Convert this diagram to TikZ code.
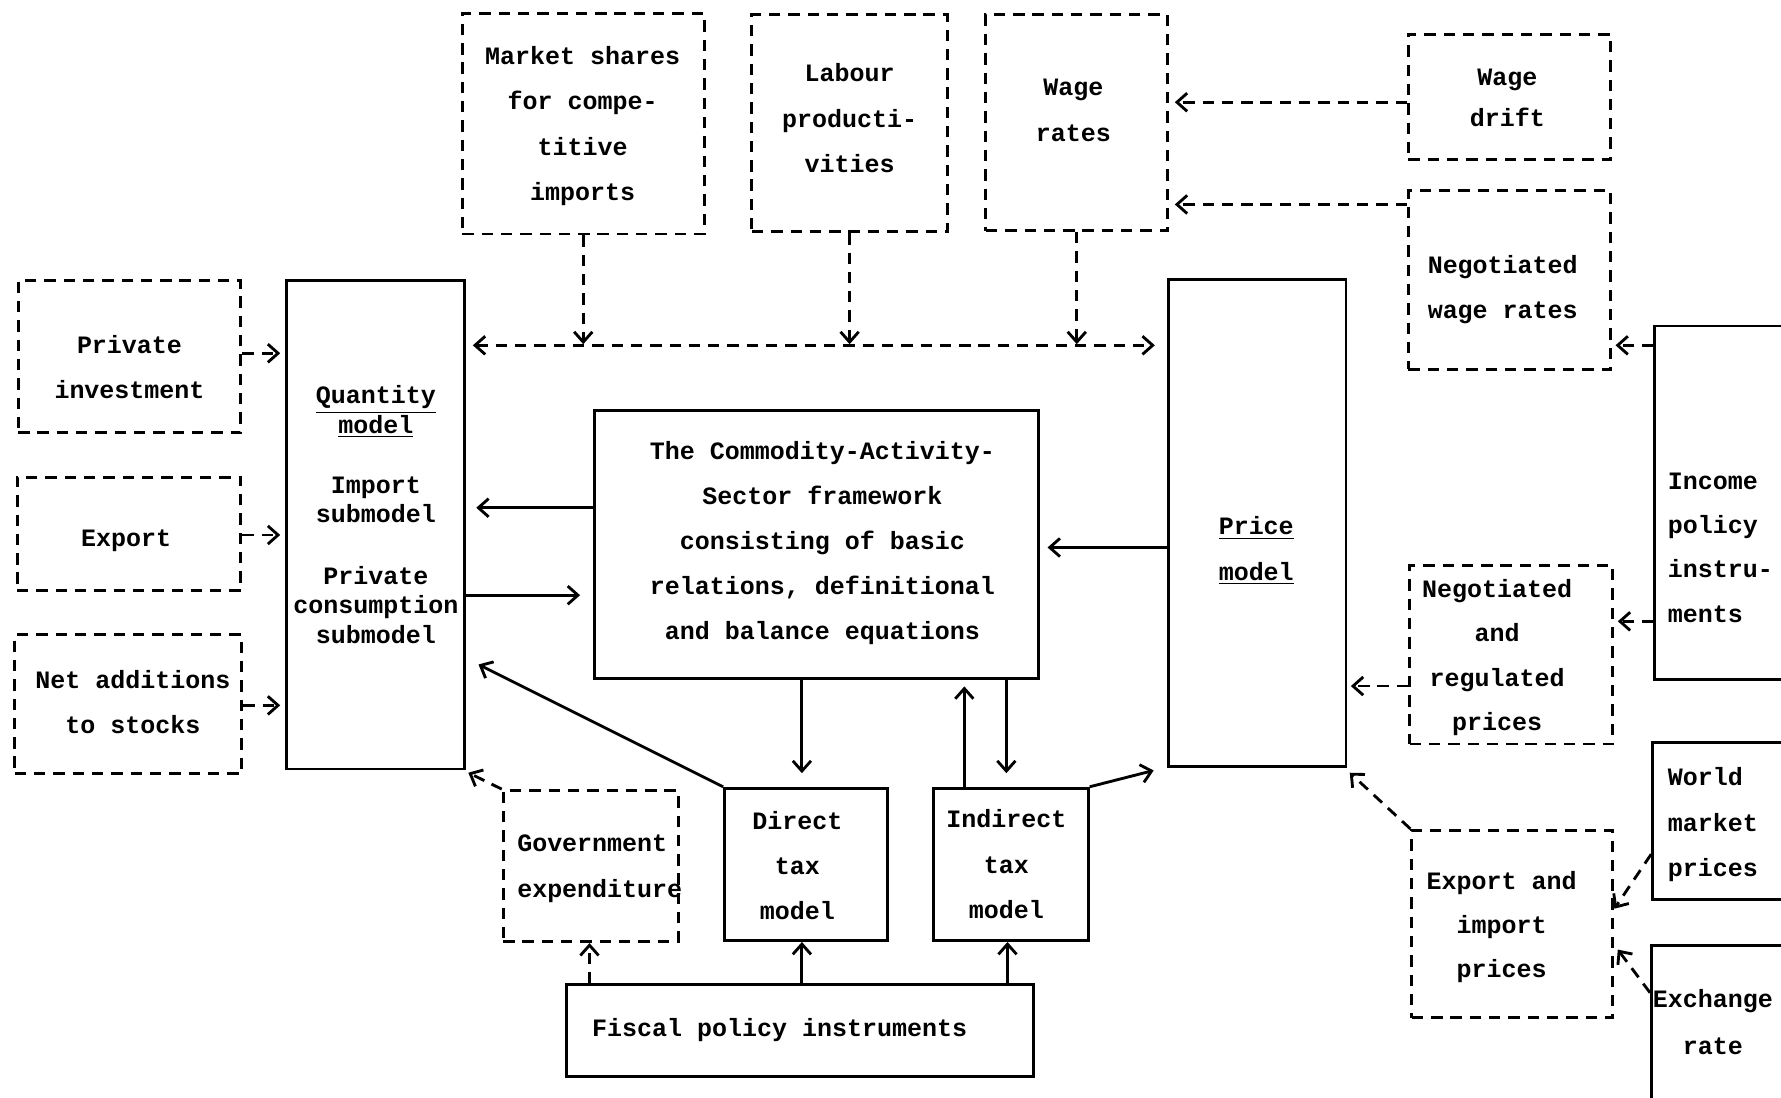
\documentclass[tikz,border=0pt]{standalone}
\usepackage{fontspec}
\setmonofont{Liberation Mono}
\usetikzlibrary{arrows.meta,fit}
\tikzset{
  box/.style={draw, line width=1.3pt, inner sep=0pt},
  dbox/.style={box, dash pattern=on 5pt off 3.5pt},
  txt/.style={font=\ttfamily\bfseries\fontsize{11}{#1}\selectfont, align=center, inner sep=0pt},
  txt/.default=20pt,
  arr/.style={line width=1.25pt, ->},
  darr/.style={arr, dash pattern=on 5pt off 3.5pt},
}
\begin{document}
\begin{tikzpicture}[x=0.5pt,y=-0.5pt,>={Straight Barb[length=4.5pt,width=8pt,line width=1.25pt]}]
\clip (0,0) rectangle (1568,966);
% boxes
\node[dbox, fit={(16,247) (212,381)}] (pi) {};
\node[dbox, fit={(15,420) (212,520)}] (ex) {};
\node[dbox, fit={(13,559) (213,681)}] (na) {};
\node[box, fit={(252,247) (409,677)}] (qm) {};
\node[dbox, fit={(407,12) (620,206)}] (ms) {};
\node[dbox, fit={(662,13) (834,204)}] (lp) {};
\node[dbox, fit={(868,13) (1028,203)}] (wr) {};
\node[dbox, fit={(1240,30) (1418,140)}] (wd) {};
\node[dbox, fit={(1240,168) (1418,325)}] (nw) {};
\node[box, fit={(1029,246) (1185,675)}] (pm) {};
\node[box, fit={(1457,287) (1600,598)}] (ip) {};
\node[dbox, fit={(1241,498) (1420,655)}] (nr) {};
\node[box, fit={(1455,654) (1600,792)}] (wm) {};
\node[box, fit={(1454,832) (1600,1000)}] (er) {};
\node[dbox, fit={(1243,731) (1420,896)}] (ei) {};
\node[box, fit={(523,361) (914,597)}] (cas) {};
\node[box, fit={(638,694) (781,828)}] (dt) {};
\node[box, fit={(822,694) (958,828)}] (it) {};
\node[dbox, fit={(443,696) (597,829)}] (ge) {};
\node[box, fit={(499,867) (910,948)}] (fp) {};
% texts
\node[txt] (t-pi) at (114,323) {Private\\investment};
\node[txt] (t-ex) at (111,476) {Export};
\node[txt] (t-na) at (117,618) {Net additions\\to stocks};
\node[txt=13pt] (t-qm) at (331,453) {\underline{Quantity}\\\underline{model}\\[13.5pt]Import\\submodel\\[14pt]Private\\consumption\\submodel};
\node[txt] (t-ms) at (513,111) {Market shares\\for compe-\\titive\\imports};
\node[txt] (t-lp) at (748,104) {Labour\\producti-\\vities};
\node[txt] (t-wr) at (945,97) {Wage\\rates};
\node[txt=18pt] (t-wd) at (1327,86) {Wage\\drift};
\node[txt] (t-nw) at (1323,255) {Negotiated\\wage rates};
\node[txt] (t-pm) at (1106,485) {\underline{Price}\\\underline{model}};
\node[txt=19.5pt, align=left, anchor=west] (t-ip) at (1468,482) {Income\\policy\\instru-\\ments};
\node[txt=19.5pt] (t-nr) at (1318,579) {Negotiated\\and\\regulated\\prices};
\node[txt, align=left, anchor=west] (t-wm) at (1468,726) {World\\market\\prices};
\node[txt=20.5pt] (t-er) at (1508,900) {Exchange\\rate};
\node[txt=19.5pt] (t-ei) at (1322,816) {Export and\\import\\prices};
\node[txt=19.75pt] (t-cas) at (724,478) {The Commodity-Activity-\\Sector framework\\consisting of basic\\relations, definitional\\and balance equations};
\node[txt, align=left, anchor=west] (t-ge) at (455,765) {Government\\expenditure};
\node[txt] (t-dt) at (702,762) {Direct\\tax\\model};
\node[txt] (t-it) at (886,761) {Indirect\\tax\\model};
\node[txt, anchor=west] (t-fp) at (521,907) {Fiscal policy instruments};
% dashed connectors
\draw[darr] (pi.east |- 0,311) -- ([xshift=-2pt]qm.west |- 0,311);
\draw[darr] (ex.east |- 0,471) -- ([xshift=-2pt]qm.west |- 0,471);
\draw[darr] (na.east |- 0,621) -- ([xshift=-2pt]qm.west |- 0,621);
\draw[darr, <->] ([xshift=3pt]qm.east |- 0,304) -- ([xshift=-5.5pt]pm.west |- 0,304);
\draw[darr] (ms.south) -- (ms.south |- 0,303);
\draw[darr] (lp.south) -- (lp.south |- 0,303);
\draw[darr] (wr.south) -- (wr.south |- 0,303);
\draw[darr] (wd.west |- 0,90) -- ([xshift=2.5pt]wr.east |- 0,90);
\draw[darr] (nw.west |- 0,180) -- ([xshift=2.5pt]wr.east |- 0,180);
\draw[darr] (ip.west |- 0,304) -- ([xshift=1.5pt]nw.east |- 0,304);
\draw[darr] (ip.west |- 0,547) -- ([xshift=1.5pt]nr.east |- 0,547);
\draw[darr] (nr.west |- 0,604) -- ([xshift=1.5pt]pm.east |- 0,604);
\draw[darr] (ei.north west) -- ([shift={(1pt,-2pt)}]pm.south east);
\draw[darr] (wm.west |- 0,752) -- (ei.east |- 0,800);
\draw[darr] (er.west |- 0,874) -- ([xshift=1.5pt]ei.east |- 0,836);
\draw[darr] (ge.north west) -- ([shift={(1pt,-1pt)}]qm.south east);
\draw[darr] (fp.north -| 519,0) -- (ge.south -| 519,0);
% solid connectors
\draw[arr] (cas.west |- 0,447) -- ([xshift=4.5pt]qm.east |- 0,447);
\draw[arr] (qm.east |- 0,524) -- ([xshift=-5.5pt]cas.west |- 0,524);
\draw[arr] (pm.west |- 0,482) -- ([xshift=3.5pt]cas.east |- 0,482);
\draw[arr] (cas.south -| 706,0) -- ([yshift=6pt]dt.north -| 706,0);
\draw[arr] (it.north -| 849,0) -- ([yshift=-3pt]cas.south -| 849,0);
\draw[arr] (cas.south -| 886,0) -- ([yshift=6pt]it.north -| 886,0);
\draw[arr] (dt.north west) -- ([xshift=5.5pt]qm.east |- 0,585);
\draw[arr] (it.north east) -- ([shift={(-6pt,-1pt)}]pm.south west);
\draw[arr] (fp.north -| 706,0) -- (dt.south -| 706,0);
\draw[arr] (fp.north -| 887,0) -- (it.south -| 887,0);
\end{tikzpicture}
\end{document}
